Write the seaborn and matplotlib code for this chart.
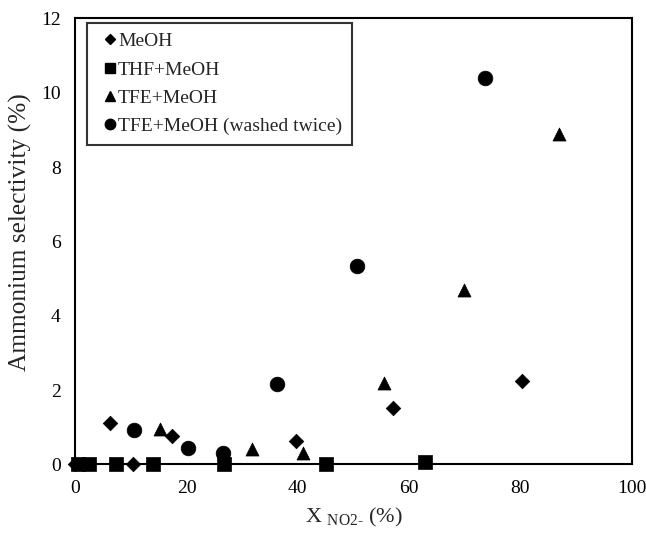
import numpy as np
import pandas as pd
import matplotlib
matplotlib.use("Agg")
import matplotlib.pyplot as plt
from matplotlib.lines import Line2D
import seaborn as sns

# ---- data ----
meoh_x = [0.0, 6.2, 10.4, 17.3, 39.6, 57.1, 80.3]
meoh_y = [0.0, 1.12, 0.0, 0.75, 0.64, 1.52, 2.25]

thf_x = [0.4, 2.4, 7.4, 13.9, 26.7, 45.0, 62.8]
thf_y = [0.0, 0.0, 0.0, 0.0, 0.0, 0.0, 0.05]

tfe_x = [15.2, 31.8, 40.9, 55.5, 69.8, 87.0]
tfe_y = [0.94, 0.42, 0.31, 2.20, 4.70, 8.90]

wash_x = [10.5, 20.2, 26.6, 36.3, 50.6, 73.6]
wash_y = [0.92, 0.45, 0.31, 2.15, 5.34, 10.41]

series_names = ["MeOH", "THF+MeOH", "TFE+MeOH", "TFE+MeOH (washed twice)"]
x_ticks = [0, 20, 40, 60, 80, 100]
y_ticks = [0, 2, 4, 6, 8, 10, 12]

sns.set_style("white")
plt.rcParams["font.family"] = ["Liberation Serif", "DejaVu Serif"]
plt.rcParams["mathtext.fontset"] = "custom"
plt.rcParams["mathtext.rm"] = "Liberation Serif"

fig = plt.figure(figsize=(6.46, 5.34), dpi=100)
ax = fig.add_axes([0.1166, 0.1305, 0.8612, 0.8349])

specs = [
    (meoh_x, meoh_y, "D", 55),
    (thf_x, thf_y, "s", 92),
    (tfe_x, tfe_y, "^", 88),
    (wash_x, wash_y, "o", 112),
]
for (xs, ys, m, s), name in zip(specs, series_names):
    df = pd.DataFrame({"x": xs, "y": ys})
    sns.scatterplot(data=df, x="x", y="y", marker=m, s=s, color="black",
                    edgecolor="black", linewidth=0.5, ax=ax, zorder=3,
                    clip_on=False, legend=False)

ax.set_xlim(0, 100)
ax.set_ylim(0, 12)
ax.set_xticks(x_ticks)
ax.set_yticks(y_ticks)
ax.set_xticklabels([str(v) for v in x_ticks])
ax.set_yticklabels([str(v) for v in y_ticks])
ax.tick_params(axis="x", direction="in", length=5, width=1, pad=11,
               labelsize=14, colors="black")
ax.tick_params(axis="y", direction="out", length=5, width=1, pad=5.5,
               labelsize=14, colors="black")
for sp in ax.spines.values():
    sp.set_visible(True)
    sp.set_color("black")
    sp.set_linewidth(1.5)

ax.set_ylabel("Ammonium selectivity (%)", fontsize=18.3)
ax.yaxis.set_label_coords(-0.077, 0.521)
ax.set_xlabel("X $_{\\mathregular{NO2\u2010}}$ (%)", fontsize=16, labelpad=7)

handles = [
    Line2D([], [], marker="D", color="black", linestyle="none", markersize=5),
    Line2D([], [], marker="s", color="black", linestyle="none", markersize=7),
    Line2D([], [], marker="^", color="black", linestyle="none", markersize=7),
    Line2D([], [], marker="o", color="black", linestyle="none", markersize=7.5),
]
leg = ax.legend(handles, series_names, loc="upper left",
                bbox_to_anchor=(0.021, 0.99), fontsize=14,
                frameon=True, fancybox=False, edgecolor="black",
                handlelength=1.4, handletextpad=-0.3, borderpad=0.5,
                labelspacing=0.55, borderaxespad=0)
leg.get_frame().set_linewidth(1.5)

fig.savefig("out.png", dpi=100)
